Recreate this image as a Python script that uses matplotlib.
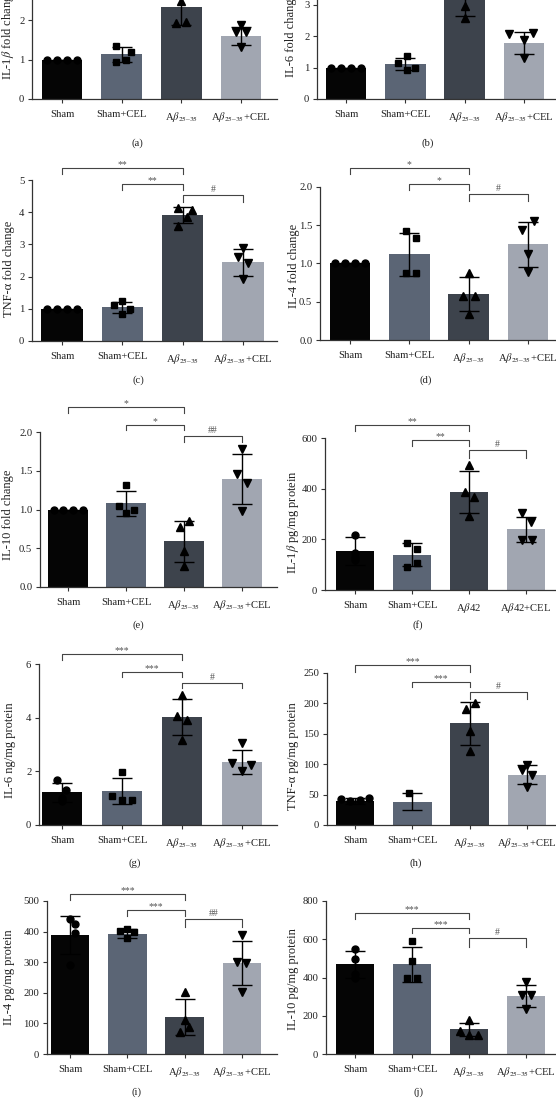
import matplotlib
matplotlib.use("Agg")
import matplotlib.pyplot as plt
from matplotlib.transforms import blended_transform_factory

plt.rcParams['font.family'] = ['Liberation Serif', 'DejaVu Serif']
plt.rcParams['mathtext.fontset'] = 'stix'

W, H, DPI = 556, 1098, 100

# ---------------- data ----------------
groups = ['Sham', 'Sham+CEL', r'A$\beta_{\mathrm{25–35}}$', r'A$\beta_{\mathrm{25–35}}$+CEL']
groups_f = ['Sham', 'Sham+CEL', r'A$\beta$42', r'A$\beta$42+CEL']

a_mean = [1.00, 1.13, 2.34, 1.59]
a_sd = [0.0, 0.19, 0.47, 0.23]
a_pts = [[1, 1, 1, 1], [1.35, 1.20, 0.93, 0.99], [2.49, 1.93, 1.96, 2.98], [1.87, 1.70, 1.70, 1.32]]

b_mean = [1.00, 1.10, 3.45, 1.78]
b_sd = [0.0, 0.19, 0.80, 0.345]
b_pts = [[1, 1, 1, 1], [1.38, 1.14, 0.98, 0.93], [2.95, 2.57, 3.90, 4.35], [2.06, 1.88, 2.10, 1.30]]

c_mean = [1.00, 1.05, 3.91, 2.44]
c_sd = [0.0, 0.17, 0.25, 0.41]
c_pts = [[1, 1, 1, 1], [1.23, 1.11, 0.99, 0.83], [4.14, 4.07, 3.84, 3.57], [2.89, 2.62, 2.41, 1.92]]

d_mean = [1.00, 1.12, 0.60, 1.25]
d_sd = [0.0, 0.285, 0.22, 0.295]
d_pts = [[1, 1, 1, 1], [1.42, 1.33, 0.87, 0.87], [0.87, 0.58, 0.58, 0.34], [1.56, 1.44, 1.13, 0.89]]

e_mean = [1.00, 1.08, 0.59, 1.39]
e_sd = [0.0, 0.16, 0.265, 0.32]
e_pts = [[1, 1, 1, 1], [1.32, 1.04, 0.99, 0.96], [0.85, 0.77, 0.47, 0.27], [1.78, 1.46, 1.34, 0.98]]

f_mean = [153, 139, 386, 239]
f_sd = [56, 45, 83, 50]
f_pts = [[218, 145, 130, 120], [187, 163, 108, 91], [495, 387, 367, 292], [305, 268, 196, 196]]

g_mean = [1.22, 1.25, 4.01, 2.35]
g_sd = [0.35, 0.485, 0.67, 0.445]
g_pts = [[1.66, 1.32, 1.0, 0.9], [1.98, 1.07, 0.94, 0.94], [4.84, 4.05, 3.90, 3.16], [3.06, 2.31, 2.25, 2.00]]

h_mean = [40, 38.5, 167, 83]
h_sd = [5, 13.5, 35.5, 16]
h_pts = [[42, 40, 41, 45], [52], [200, 190, 154, 121], [99, 91, 82, 62]]

i_mean = [388, 393, 121, 298]
i_sd = [62, 15.5, 58, 72.5]
i_pts = [[440, 426, 397, 290], [402, 410, 400, 378], [203, 111, 89, 73], [388, 301, 298, 203]]

j_mean = [468, 468, 129, 304]
j_sd = [69, 91.5, 35, 56.5]
j_pts = [[551, 499, 420, 400], [591, 485, 400, 400], [177, 120, 99, 99], [377, 308, 308, 233]]

ylabels = {
    'a': r'IL-1$\beta$ fold change', 'b': 'IL-6 fold change', 'c': 'TNF-α fold change',
    'd': 'IL-4 fold change', 'e': 'IL-10 fold change', 'f': r'IL-1$\beta$ pg/mg protein',
    'g': 'IL-6 ng/mg protein', 'h': 'TNF-α pg/mg protein', 'i': 'IL-4 pg/mg protein',
    'j': 'IL-10 pg/mg protein',
}
sig = {
    'c': ['**', '**', '#'], 'd': ['*', '*', '#'], 'e': ['*', '*', '##'], 'f': ['**', '**', '#'],
    'g': ['***', '***', '#'], 'h': ['***', '***', '#'], 'i': ['***', '***', '##'], 'j': ['***', '***', '#'],
}

# ---------------- style / layout ----------------
colors = ['#050505', '#5b6575', '#3d434c', '#a1a6b1']
markers = ['o', 's', '^', 'v']
msizes = [5.0, 5.0, 5.6, 5.6]

OFF = {
    'a': [[-0.25, -0.08, 0.08, 0.25], [-0.09, 0.15, -0.09, 0.07], [0, -0.09, 0.08, 0], [0, -0.09, 0.08, 0]],
    'b': [[-0.25, -0.08, 0.08, 0.25], [0.03, -0.12, 0.17, 0.03], [0, 0, -0.1, 0.1], [-0.25, 0, 0.16, 0]],
    'c': [[-0.25, -0.08, 0.08, 0.25], [0.0, -0.13, 0.13, 0.0], [-0.07, 0.16, 0.08, -0.07], [0, -0.09, 0.08, 0]],
    'd': [[-0.25, -0.08, 0.08, 0.25], [-0.06, 0.12, -0.06, 0.12], [0, -0.1, 0.1, 0], [0.1, -0.1, 0, 0]],
    'e': [[-0.25, -0.08, 0.08, 0.25], [0, -0.12, 0.14, 0], [0.09, -0.07, 0, 0], [0, -0.09, 0.08, 0]],
    'f': [[0, 0, 0, 0], [-0.08, 0.08, 0.08, -0.08], [0, -0.07, 0.09, 0], [-0.07, 0.08, -0.07, 0.1]],
    'g': [[-0.08, 0.07, 0, 0], [0, -0.16, 0, 0.16], [0, -0.08, 0.08, 0], [0, -0.16, 0.15, 0]],
    'h': [[-0.25, -0.08, 0.08, 0.25], [-0.05], [0.09, -0.07, 0, 0], [0, -0.08, 0.08, 0]],
    'i': [[0, 0.09, 0.08, 0], [-0.12, 0.0, 0.12, 0.0], [0, 0, 0.08, -0.08], [0, -0.08, 0.07, 0]],
    'j': [[0, 0, 0, 0], [0, 0, -0.08, 0.09], [0, -0.16, 0, 0.16], [0, -0.07, 0.09, 0]],
}

# (spine_x, center0_x, center3_x, right_x, top_y, bottom_y) in pixels
LAY = {
    'a': dict(box=(32, 62, 241, 277, -59, 99), ymax=4, ticks=[0, 1, 2, 3, 4], fmt='{:.0f}',
              ylab=(8, 80, 'bottom'), cap=(137, 143)),
    'b': dict(box=(317, 346, 524, 555, -58, 99), ymax=5, ticks=[0, 1, 2, 3, 4, 5], fmt='{:.0f}',
              ylab=(291, 77, 'bottom'), cap=(428, 143)),
    'c': dict(box=(32, 62, 243, 277, 180, 341), ymax=5, ticks=[0, 1, 2, 3, 4, 5], fmt='{:.0f}',
              ylab=(9, 269, 'center'), cap=(138, 380),
              br=[(168, 174), (184, 190), (195, 202)]),
    'd': dict(box=(320, 350, 528, 555, 187, 340), ymax=2.0, ticks=[0, 0.5, 1.0, 1.5, 2.0], fmt='{:.1f}',
              ylab=(294, 266, 'center'), cap=(426, 380),
              br=[(168, 174), (184, 190), (194, 201)]),
    'e': dict(box=(40, 68, 242, 277, 432, 587), ymax=2.0, ticks=[0, 0.5, 1.0, 1.5, 2.0], fmt='{:.1f}',
              ylab=(8, 515, 'center'), cap=(138, 625),
              br=[(407, 413), (425, 430), (436, 442)]),
    'f': dict(box=(325, 355, 526, 555, 438, 590), ymax=600, ticks=[0, 200, 400, 600], fmt='{:.0f}',
              ylab=(293, 522, 'center'), cap=(418, 625),
              br=[(425, 431), (440, 446), (450, 458)]),
    'g': dict(box=(39, 62, 242, 277, 664, 825), ymax=6, ticks=[0, 2, 4, 6], fmt='{:.0f}',
              ylab=(10, 750, 'center'), cap=(135, 863),
              br=[(654, 660), (672, 677), (683, 688)]),
    'h': dict(box=(327, 355, 527, 555, 673, 825), ymax=250, ticks=[0, 50, 100, 150, 200, 250], fmt='{:.0f}',
              ylab=(293, 756, 'center'), cap=(416, 863),
              br=[(665, 672), (682, 687), (692, 699)]),
    'i': dict(box=(47, 70, 242, 277, 901, 1054), ymax=500, ticks=[0, 100, 200, 300, 400, 500], fmt='{:.0f}',
              ylab=(9, 977, 'center'), cap=(137, 1092),
              br=[(894, 900), (910, 916), (919, 927)]),
    'j': dict(box=(326, 355, 526, 555, 901, 1054), ymax=800, ticks=[0, 200, 400, 600, 800], fmt='{:.0f}',
              ylab=(293, 979, 'center'), cap=(418, 1092),
              br=[(913, 919), (928, 933), (938, 947)]),
}

DATA = {
    'a': (a_mean, a_sd, a_pts), 'b': (b_mean, b_sd, b_pts), 'c': (c_mean, c_sd, c_pts),
    'd': (d_mean, d_sd, d_pts), 'e': (e_mean, e_sd, e_pts), 'f': (f_mean, f_sd, f_pts),
    'g': (g_mean, g_sd, g_pts), 'h': (h_mean, h_sd, h_pts), 'i': (i_mean, i_sd, i_pts),
    'j': (j_mean, j_sd, j_pts),
}

TXT = '#222222'
fig = plt.figure(figsize=(W / DPI, H / DPI), dpi=DPI)

BR_PAIRS = [(0, 2), (1, 2), (2, 3)]

for key in 'abcdefghij':
    mean, sd, pts = DATA[key]
    L = LAY[key]
    sx, c0, c3, rx, ty, by = L['box']
    ppu = (c3 - c0) / 3.0
    ax = fig.add_axes([sx / W, 1 - by / H, (rx - sx) / W, (by - ty) / H])
    xs = list(range(4))
    ax.bar(xs, mean, width=0.68, color=colors, zorder=2, linewidth=0)
    ax.errorbar(xs, mean, yerr=sd, fmt='none', ecolor='black', elinewidth=1.0,
                capsize=7.2, capthick=1.0, zorder=3)
    for gi in range(4):
        offs = OFF[key][gi]
        vals = pts[gi]
        ax.plot([gi + o for o in offs[:len(vals)]], vals, ls='none', marker=markers[gi],
                ms=msizes[gi], color='black', mec='black', zorder=4, clip_on=False)
    ax.set_xlim(-(c0 - sx) / ppu, 3 + (rx - c3) / ppu)
    ax.set_ylim(0, L['ymax'])
    ax.set_yticks(L['ticks'])
    ax.set_yticklabels([L['fmt'].format(t) for t in L['ticks']])
    ax.set_xticks(xs)
    ax.set_xticklabels(groups_f if key == 'f' else groups)
    for s in ['top', 'right']:
        ax.spines[s].set_visible(False)
    for s in ['left', 'bottom']:
        ax.spines[s].set_color('#333333')
        ax.spines[s].set_linewidth(0.9)
    ax.tick_params(axis='both', length=3, width=0.8, color='#333333', labelsize=7.7,
                   labelcolor=TXT)
    ax.tick_params(axis='y', pad=2.5)
    ax.tick_params(axis='x', pad=5)

    lx, ly, va = L['ylab']
    fig.text(lx / W, 1 - ly / H, ylabels[key], rotation=90, ha='center', va=va,
             fontsize=9, color=TXT)
    cx, cy = L['cap']
    fig.text(cx / W, 1 - cy / H, '(' + key + ')', ha='center', va='center', fontsize=7.7, color=TXT)

    if 'br' in L:
        tr = blended_transform_factory(ax.transData, fig.transFigure)
        for (i0, i1), (yl, yt), lab in zip(BR_PAIRS, L['br'], sig[key]):
            yf = 1 - yl / H
            ytf = 1 - yt / H
            ax.plot([i0, i0, i1, i1], [ytf, yf, yf, ytf], color='#444444', lw=0.8,
                    transform=tr, clip_on=False, zorder=5)
            dy = 1.0 if '*' in lab else 3.3
            ax.text((i0 + i1) / 2, 1 - (yl - dy) / H, lab, transform=tr, ha='center',
                    va='baseline', fontsize=7, color='#555555')

fig.savefig('out.png', dpi=DPI)
